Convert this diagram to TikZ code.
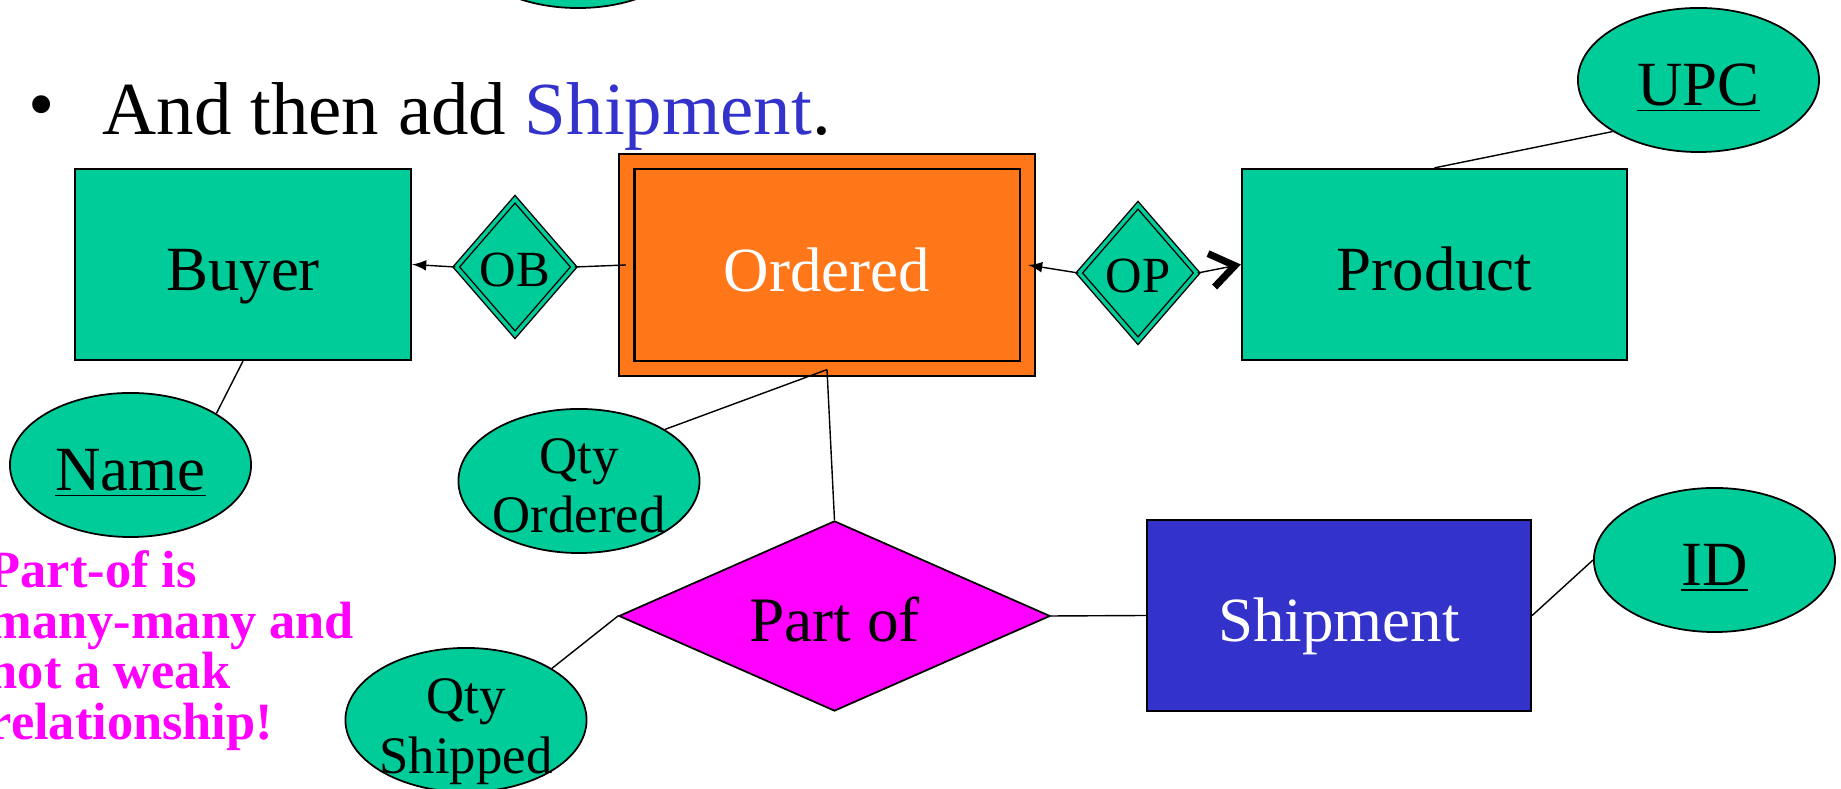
\documentclass[tikz,border=0pt]{standalone}
\usepackage{fontspec}
\setmainfont{Liberation Serif}
\usetikzlibrary{shapes.geometric,arrows.meta}

\definecolor{erteal}{RGB}{0,204,153}
\definecolor{erorange}{RGB}{255,119,25}
\definecolor{erblue}{RGB}{51,51,204}
\definecolor{ermagenta}{RGB}{255,0,255}

\tikzset{
  entity/.style={rectangle,draw,line width=0.6pt,fill=erteal,inner sep=0pt,
    minimum height=1.91cm,text height=0.52cm,text depth=0pt,
    font=\fontsize{17.9pt}{21pt}\selectfont},
  weakentity/.style={entity,fill=erorange,double=erorange,double distance=0.13cm,text=white},
  attr/.style={ellipse,draw,line width=0.5pt,fill=erteal,inner sep=-3pt,
    minimum width=2.41cm,minimum height=1.44cm},
  keyattr/.style={attr,text height=0.5cm,text depth=0pt,font=\fontsize{17.9pt}{21pt}\selectfont},
  qtyattr/.style={attr,align=center,text height=1.03cm,text depth=0pt,
    font=\fontsize{15pt}{16.8pt}\selectfont},
  weakrel/.style={diamond,draw,line width=0.4pt,fill=erteal,double=erteal,double distance=1pt,
    inner sep=0pt,minimum width=1.18cm,minimum height=1.36cm,text height=0.4cm,text depth=0pt,
    font=\fontsize{14.4pt}{17pt}\selectfont},
  rel/.style={diamond,aspect=2.27,draw,line width=0.5pt,fill=ermagenta,inner sep=0pt,
    minimum width=4.31cm,minimum height=1.9cm,text height=0.5cm,text depth=0pt,
    font=\fontsize{18pt}{21pt}\selectfont},
  heading/.style={anchor=base west,inner sep=0pt,font=\fontsize{21.3pt}{25pt}\selectfont},
  note/.style={anchor=north west,align=left,inner sep=0pt,text=ermagenta,
    font=\bfseries\fontsize{14.9pt}{14.4pt}\selectfont}
}

\begin{document}
\begin{tikzpicture}[x=0.01cm,y=-0.01cm]
\useasboundingbox (0,0) rectangle (1841,789);

\node[heading] (bullet) at (28,130) {•};
\node[heading] (title) at (102,135) {And then add \textcolor{erblue}{Shipment}.};

\node[attr] (oldattr) at (578,-64) {};

\node[entity,minimum width=3.36cm] (buyer) at (243,264.5) {Buyer};
\node[weakentity,minimum width=4cm,minimum height=2.07cm] (ordered) at (827,265) {Ordered};
\node[entity,minimum width=3.85cm] (product) at (1434.5,264.5) {Product};
\node[entity,minimum width=3.84cm,fill=erblue,text=white] (shipment) at (1339,615.5) {Shipment};

\node[weakrel] (ob) at (515,267) {OB};
\node[weakrel] (op) at (1138,273) {OP};
\node[rel] (partof) at (834.5,616) {Part of};

\node[keyattr] (name) at (130.5,465) {\underline{Name}};
\node[keyattr] (upc) at (1698.5,80) {\underline{UPC}};
\node[keyattr] (id) at (1714.5,560) {\underline{ID}};
\node[qtyattr] (qtyord) at (579,481) {Qty\\Ordered};
\node[qtyattr,text height=1.06cm] (qtyship) at (466,720) {Qty\\Shipped};

\draw (buyer.south) -- (name.north east);
\draw (product.north) -- (upc.south west);
\draw (ordered.south) -- (qtyord.north east);
\draw (ordered.south) -- (partof.north);
\draw (partof.west) -- (qtyship.north east);
\draw (partof.east) -- (shipment.west);
\draw (shipment.east) -- (id.west);
\draw (ob.east) -- (ordered.west);
\draw [>=latex,->] (ob.west) -- (buyer.east);
\draw [>=latex,->] (op.west) -- (ordered.east);
\draw [-{Straight Barb[length=0.24cm,width=0.34cm,line width=2pt]}] (op.east) -- (product.west);

\node[note] (partnote) at (-12,550) {Part-of is\\many-many and\\not a weak\\relationship!};

\end{tikzpicture}
\end{document}
